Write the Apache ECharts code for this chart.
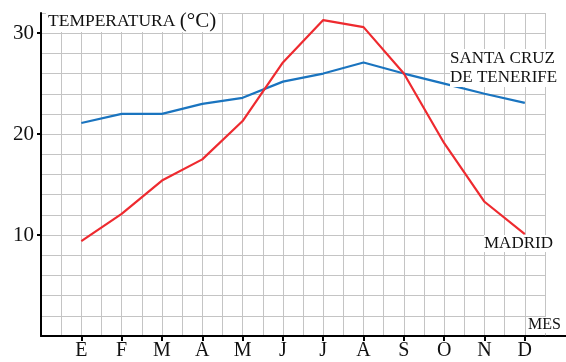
<!DOCTYPE html>
<html>
<head>
<meta charset="utf-8">
<script src="https://cdn.jsdelivr.net/npm/echarts@6/dist/echarts.min.js"></script>
<style>
  html, body { margin: 0; padding: 0; background: #fff; }
  #chart { width: 566px; height: 362px; }
</style>
</head>
<body>
<div id="chart"></div>
<script>
const months = ["E", "F", "M", "A", "M", "J", "J", "A", "S", "O", "N", "D"];
const monthPos = [1, 2, 3, 4, 5, 6, 7, 8, 9, 10, 11, 12];
const madrid = [9.4, 12.1, 15.4, 17.5, 21.3, 27.1, 31.3, 30.6, 26.0, 19.1, 13.3, 10.1];
const santaCruz = [21.1, 22.0, 22.0, 23.0, 23.6, 25.2, 26.0, 27.1, 26.0, 25.0, 24.0, 23.1];
const yTicks = [10, 20, 30];

const serif = "Liberation Serif";
const chart = echarts.init(document.getElementById("chart"));

const toPairs = (arr) => arr.map((v, i) => [monthPos[i], v]);

const option = {
  backgroundColor: "#fff",
  animation: false,
  grid: { left: 41, top: 13, width: 504, height: 323 },
  xAxis: [
    {
      type: "value",
      min: 0,
      max: 12.5,
      interval: 0.5,
      axisLine: { show: false },
      axisTick: { show: false },
      axisLabel: { show: false },
      splitLine: { show: true, lineStyle: { color: "#c4c4c4", width: 1 } },
    },
    {
      type: "value",
      min: 0,
      max: 12.5,
      interval: 1,
      position: "bottom",
      axisLine: { show: true, lineStyle: { color: "#000", width: 2 } },
      axisTick: { show: true, length: 5, customValues: monthPos, lineStyle: { color: "#000", width: 2 } },
      axisLabel: {
        fontFamily: serif,
        fontSize: 20,
        color: "#111",
        margin: 5,
        customValues: monthPos,
        formatter: (v) => months[v - 1],
      },
      splitLine: { show: false },
    },
  ],
  yAxis: [
    {
      type: "value",
      min: 0,
      max: 32,
      interval: 2,
      axisLine: { show: false },
      axisTick: { show: false },
      axisLabel: { show: false },
      splitLine: { show: true, lineStyle: { color: "#c4c4c4", width: 1 } },
    },
    {
      type: "value",
      min: 0,
      max: 32,
      interval: 2,
      position: "left",
      axisLine: { show: true, lineStyle: { color: "#000", width: 2 } },
      axisTick: { show: true, length: 4, customValues: yTicks, lineStyle: { color: "#000", width: 2 } },
      axisLabel: {
        fontFamily: serif,
        fontSize: 21,
        color: "#111",
        margin: 7,
        customValues: yTicks,
      },
      splitLine: { show: false },
    },
  ],
  series: [
    {
      name: "SANTA CRUZ DE TENERIFE",
      type: "line",
      data: toPairs(santaCruz),
      symbol: "none",
      lineStyle: { color: "#1a74bf", width: 2.2 },
      z: 3,
    },
    {
      name: "MADRID",
      type: "line",
      data: toPairs(madrid),
      symbol: "none",
      lineStyle: { color: "#ee2a2f", width: 2.2 },
      z: 4,
    },
  ],
  graphic: [
    { type: "line", shape: { x1: 545, y1: 336, x2: 566, y2: 336 }, style: { stroke: "#000", lineWidth: 2 } },
    {
      type: "text", left: 46, top: 11, z: 10,
      style: {
        rich: {
          a: { fontFamily: serif, fontSize: 17.5, fill: "#111" },
          b: { fontFamily: serif, fontSize: 21, fill: "#111" },
        },
        text: "{a|TEMPERATURA }{b|(°C)}",
        backgroundColor: "#fff",
        padding: [0, 2, 0, 2],
      },
    },
    {
      type: "text", left: 450, top: 49, z: 10,
      style: {
        text: "SANTA CRUZ\nDE TENERIFE",
        fontFamily: serif, fontSize: 17, lineHeight: 19, fill: "#111",
        align: "right", backgroundColor: "#fff",
      },
    },
    {
      type: "text", left: 484, top: 235, z: 10,
      style: { text: "MADRID", fontFamily: serif, fontSize: 17, fill: "#111", backgroundColor: "#fff" },
    },
    {
      type: "text", left: 528, top: 317, z: 10,
      style: { text: "MES", fontFamily: serif, fontSize: 16, fill: "#111", backgroundColor: "#fff" },
    },
  ],
};
chart.setOption(option);
</script>
</body>
</html>
